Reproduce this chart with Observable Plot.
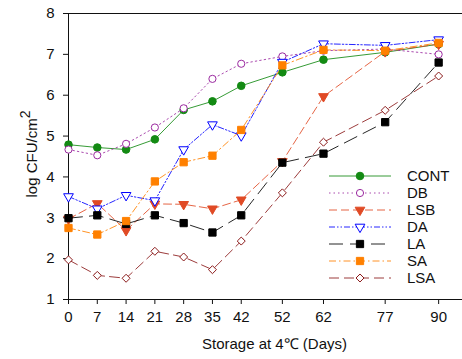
<!DOCTYPE html>
<html><head><meta charset="utf-8">
<script src="https://cdn.jsdelivr.net/npm/d3@7"></script>
<script src="https://cdn.jsdelivr.net/npm/@observablehq/plot@0.6"></script>
<style>body{margin:0;background:#fff;} #chart svg{display:block;}</style>
</head><body><div id="chart"></div>
<script>
const days = [0, 7, 14, 21, 28, 35, 42, 52, 62, 77, 90];
const CONT = [4.79, 4.72, 4.67, 4.92, 5.64, 5.85, 6.23, 6.56, 6.87, 7.05, 7.25];
const DB   = [4.67, 4.53, 4.81, 5.21, 5.68, 6.40, 6.77, 6.95, 7.09, 7.13, 7.00];
const LSB  = [2.97, 3.35, 2.69, 3.34, 3.33, 3.22, 3.44, 4.38, 5.97, 7.07, 7.25];
const DA   = [3.52, 3.22, 3.55, 3.42, 4.67, 5.28, 5.01, 6.81, 7.26, 7.22, 7.36];
const LA   = [2.99, 3.06, 2.85, 3.06, 2.87, 2.64, 3.06, 4.35, 4.57, 5.34, 6.80];
const SA   = [2.75, 2.59, 2.92, 3.89, 4.36, 4.52, 5.15, 6.73, 7.11, 7.09, 7.28];
const LSA  = [1.97, 1.59, 1.52, 2.18, 2.04, 1.73, 2.43, 3.61, 4.85, 5.63, 6.47];
const seriesNames = ["CONT", "DB", "LSB", "DA", "LA", "SA", "LSA"];
const seriesValues = [CONT, DB, LSB, DA, LA, SA, LSA];
const yTicks = [1, 2, 3, 4, 5, 6, 7, 8];
const xLabel = "Storage at 4\u2103 (Days)";

const colors = ["#138a13", "#9b2aa0", "#e04a25", "#0000ff", "#000000", "#ff8000", "#8b1a1a"];
const dashes = ["none", "1.5,3", "8,4", "6,2,1.5,2,1.5,2", "14,7", "7,3,1.5,3", "10,5"];
const symbols = ["circle", "circle", "triangle", "triangle", "square", "square", "diamond2"];
const d3symbols = [d3.symbolCircle, d3.symbolCircle, d3.symbolTriangle, d3.symbolTriangle, d3.symbolSquare, d3.symbolSquare, d3.symbolDiamond2];
const filled = [true, false, true, false, true, true, false];
const rotations = [0, 0, 180, 180, 0, 0, 0];
const radii = [3.8, 3.6, 3.6, 3.6, 4.1, 4.1, 3.6];

const marks = [];
seriesNames.forEach((name, i) => {
  const rows = days.map((d, j) => ({day: d, v: seriesValues[i][j], s: name}));
  marks.push(Plot.line(rows, {x: "day", y: "v", stroke: colors[i], strokeWidth: 1, strokeOpacity: 0.85,
    strokeDasharray: dashes[i] === "none" ? undefined : dashes[i]}));
  marks.push(Plot.dot(rows, {x: "day", y: "v", symbol: symbols[i], r: radii[i], rotate: rotations[i],
    fill: filled[i] ? colors[i] : "white", stroke: colors[i], strokeWidth: 1}));
});

const chart = Plot.plot({
  width: 462, height: 359,
  marginLeft: 68, marginRight: 0, marginTop: 13, marginBottom: 60,
  style: {fontFamily: "'Liberation Sans', Arial, sans-serif", fontSize: "15px", color: "#111", background: "white"},
  x: {domain: [0, 95.8]},
  y: {domain: [1, 8]},
  marks: [
    Plot.axisX({ticks: days, tickSize: 5, tickPadding: 7, label: null, fontSize: 15, tickFormat: d3.format("d")}),
    Plot.axisY({ticks: yTicks, tickSize: 5, tickPadding: 9, label: null, fontSize: 15, tickFormat: d3.format("d")}),
    Plot.ruleY([1]),
    Plot.ruleY([8]),
    Plot.ruleX([0]),
    ...marks,
    Plot.text([xLabel], {frameAnchor: "bottom", dx: 9, dy: 49, fontSize: 15, lineAnchor: "bottom"})
  ]
});
document.getElementById("chart").appendChild(chart);

const svg = d3.select(chart);
// y-axis title with superscript
const yl = svg.append("text")
  .attr("transform", "translate(37,154) rotate(-90)")
  .attr("text-anchor", "middle")
  .attr("font-size", 15)
  .attr("fill", "#111");
yl.append("tspan").text("log CFU/cm");
yl.append("tspan").attr("dy", -7).attr("font-size", 14).text("2");

// legend
const lg = svg.append("g").attr("text-anchor", "start");
seriesNames.forEach((name, i) => {
  const y = 176 + 17 * i;
  lg.append("line").attr("x1", 329).attr("x2", 391).attr("y1", y).attr("y2", y)
    .attr("stroke", colors[i]).attr("stroke-opacity", 0.85).attr("stroke-width", 1)
    .attr("stroke-dasharray", dashes[i]);
  lg.append("path")
    .attr("d", d3.symbol(d3symbols[i], Math.PI * radii[i] * radii[i])())
    .attr("transform", `translate(360,${y}) rotate(${rotations[i]})`)
    .attr("fill", filled[i] ? colors[i] : "white").attr("stroke", colors[i]);
  lg.append("text").attr("x", 407).attr("y", y).attr("dy", "0.36em")
    .attr("font-size", 15).attr("fill", "#111").attr("text-anchor", "start").text(name);
});
</script>
</body></html>
